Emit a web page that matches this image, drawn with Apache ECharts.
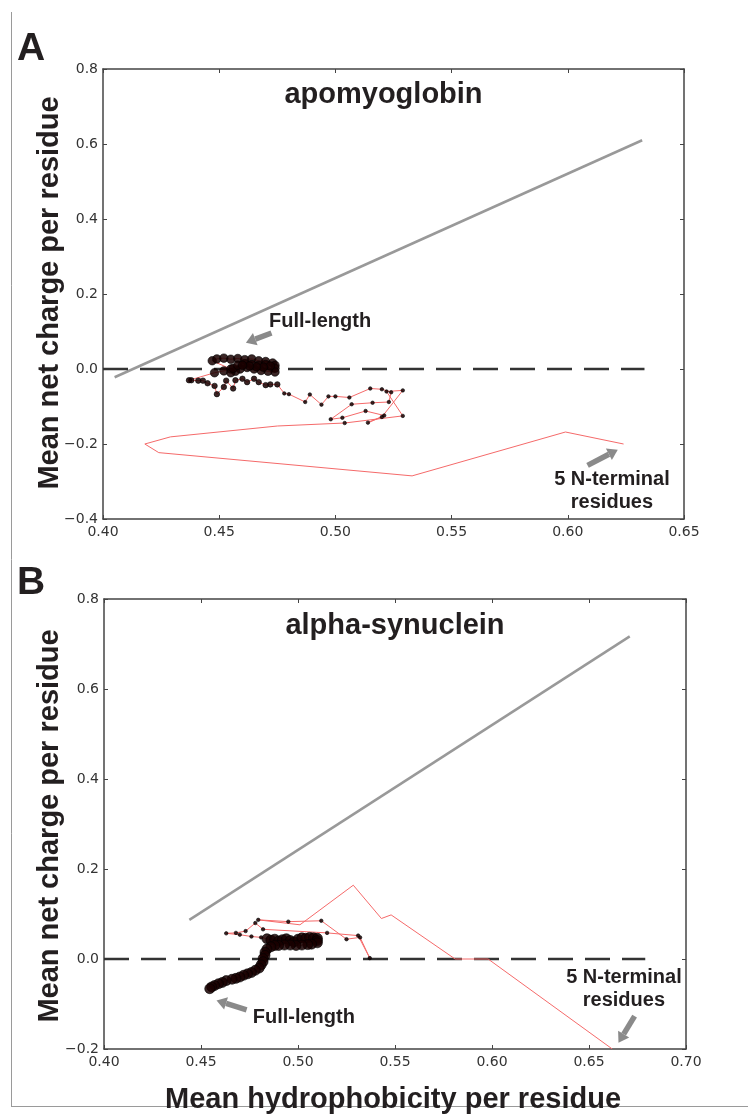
<!DOCTYPE html>
<html>
<head>
<meta charset="utf-8">
<script src="https://cdn.jsdelivr.net/npm/echarts@6/dist/echarts.min.js"></script>
<style>
  html, body { margin: 0; padding: 0; background: #fff; }
  #chart { width: 748px; height: 1118px; }
</style>
</head>
<body>
<div id="chart"></div>
<script>
// ---- apomyoglobin: cumulative trajectory from the 5 N-terminal residues to full length ----
const apoHydro = [0.624,0.599,0.533,0.424,0.418,0.429,0.475,0.504,0.529,0.522,0.529,0.520,0.514,0.521,0.513,0.503,0.498,0.507,0.516,0.523,0.524,0.520,0.515,0.506,0.500,0.497,0.494,0.489,0.487,0.480,0.478,0.475,0.472,0.470,0.467,0.465,0.462,0.460,0.457,0.456,0.453,0.452,0.449,0.448,0.445,0.443,0.441,0.438,0.437,
  0.448,0.452,0.455,0.447,0.449,0.452,0.455,0.458,0.461,0.464,0.467,0.470,0.473,0.474,0.474,0.474,0.471,0.468,0.465,0.462,0.459,0.457,0.455,0.456,0.458,0.461,0.464,0.467,0.470,0.472,0.469,0.466,0.463,0.460];
const apoCharge = [-0.200,-0.168,-0.285,-0.223,-0.200,-0.181,-0.152,-0.144,-0.125,-0.060,-0.057,-0.128,-0.143,-0.124,-0.112,-0.130,-0.134,-0.094,-0.090,-0.088,-0.062,-0.054,-0.052,-0.076,-0.073,-0.073,-0.095,-0.068,-0.088,-0.067,-0.065,-0.041,-0.041,-0.043,-0.035,-0.026,-0.035,-0.026,-0.030,-0.052,-0.031,-0.048,-0.067,-0.045,-0.038,-0.031,-0.031,-0.030,-0.030,
  -0.010,-0.005,0.000,0.022,0.027,0.029,0.026,0.028,0.025,0.027,0.022,0.020,0.016,0.010,0.002,-0.008,-0.006,-0.004,0.000,0.004,0.000,-0.006,-0.010,0.002,0.010,0.014,0.012,0.010,0.012,0.008,0.005,0.006,0.008,0.010];
const apoBoundaryX = [0.405, 0.632];
const apoBoundaryY = [-0.022, 0.610];
const apoZeroX = [0.400, 0.633];

// ---- alpha-synuclein ----
const synHydro = [0.662,0.598,0.581,0.548,0.543,0.5285,0.501,0.4795,0.495,0.512,0.525,0.532,0.537,0.531,0.515,0.482,0.478,0.473,0.468,0.463,0.470,0.476,0.481,
  0.484,0.486,0.488,0.490,0.492,0.494,0.496,0.498,0.500,0.502,0.504,0.506,0.508,0.510,0.510,0.510,0.507,0.505,0.502,0.499,0.496,0.493,0.490,0.488,0.486,0.484,0.483,0.483,0.482,0.482,0.481,0.480,0.478,0.476,0.474,0.472,0.470,0.468,0.466,0.463,0.461,0.459,0.457,0.4555,0.4545];
const synCharge = [-0.200,0.000,0.000,0.098,0.090,0.164,0.076,0.087,0.083,0.085,0.044,0.048,0.002,0.052,0.058,0.066,0.080,0.062,0.058,0.057,0.054,0.050,0.048,
  0.045,0.042,0.044,0.040,0.043,0.045,0.041,0.038,0.044,0.047,0.046,0.048,0.047,0.046,0.041,0.036,0.033,0.032,0.031,0.030,0.031,0.031,0.030,0.030,0.027,0.022,0.015,0.008,0.001,-0.006,-0.013,-0.020,-0.025,-0.030,-0.033,-0.036,-0.040,-0.043,-0.045,-0.048,-0.052,-0.055,-0.059,-0.062,-0.066];
const synBoundaryX = [0.444, 0.671];
const synBoundaryY = [0.087, 0.717];
const synZeroX = [0.400, 0.679];

// axis ranges
const apoXRange = [0.40, 0.65];
const apoYRange = [-0.4, 0.8];
const synXRange = [0.40, 0.70];
const synYRange = [-0.2, 0.8];

// text
const panelTitles = ['apomyoglobin', 'alpha-synuclein'];
const panelLetters = ['A', 'B'];
const yTitle = 'Mean net charge per residue';
const xTitle = 'Mean hydrophobicity per residue';
const fullLabel = 'Full-length';
const ntermLabel = '5 N-terminal\nresidues';

const pairs = (xs, ys) => xs.map((x, i) => [x, ys[i]]);
const minus = s => s.replace('-', '\u2212');

const TICK_FONT = '"DejaVu Sans", sans-serif';
const BOLD_FONT = '"Liberation Sans", Arial, sans-serif';
const frameColor = '#444';

function xAxes(grid, range, pos, showLabel) {
  return {
    type: 'value', gridIndex: grid, min: range[0], max: range[1], interval: 0.05,
    position: pos,
    axisLine: { onZero: false, lineStyle: { color: frameColor, width: 1.5 } },
    axisTick: { show: true, inside: true, length: 4, lineStyle: { color: frameColor, width: 1 } },
    axisLabel: { show: showLabel, showMinLabel: true, showMaxLabel: true, margin: 6,
      fontFamily: TICK_FONT, fontSize: 14, color: '#333',
      formatter: v => v.toFixed(2) },
    splitLine: { show: false }
  };
}
function yAxes(grid, range, pos, showLabel) {
  return {
    type: 'value', gridIndex: grid, min: range[0], max: range[1], interval: 0.2,
    position: pos,
    axisLine: { onZero: false, lineStyle: { color: frameColor, width: 1.5 } },
    axisTick: { show: true, inside: true, length: 4, lineStyle: { color: frameColor, width: 1 } },
    axisLabel: { show: showLabel, showMinLabel: true, showMaxLabel: true, margin: 5,
      fontFamily: TICK_FONT, fontSize: 14, color: '#333',
      formatter: v => minus(v.toFixed(1)) },
    splitLine: { show: false }
  };
}

// dot size grows as more residues are included
function apoSize(v, p) {
  const i = p.dataIndex;
  if (i < 7) return 0;
  if (i < 31) return 3.5;
  if (i < 49) return 5.5;
  return 8.5;
}
function synSize(v, p) {
  const i = p.dataIndex;
  if (i < 7) return 0;
  if (i < 23) return 3.5;
  return 10;
}

function trajectory(xi, yi, xs, ys, sizeFn) {
  return {
    type: 'line', xAxisIndex: xi, yAxisIndex: yi, data: pairs(xs, ys),
    symbol: 'circle', symbolSize: sizeFn, showSymbol: true, z: 5,
    lineStyle: { color: '#f56a6a', width: 1 },
    itemStyle: { color: 'rgba(25,0,0,0.85)', borderColor: '#000', borderWidth: 0.6 },
    animation: false, silent: true
  };
}
function straight(xi, yi, data, color, width, type, z) {
  return {
    type: 'line', xAxisIndex: xi, yAxisIndex: yi, data: data,
    symbol: 'none', z: z,
    lineStyle: { color: color, width: width, type: type },
    animation: false, silent: true
  };
}

const chart = echarts.init(document.getElementById('chart'), null, { renderer: 'canvas' });

chart.setOption({
  animation: false,
  backgroundColor: '#fff',
  grid: [
    { left: 103, top: 69, width: 581, height: 450 },
    { left: 104, top: 599, width: 582, height: 450 }
  ],
  xAxis: [
    xAxes(0, apoXRange, 'bottom', true), xAxes(0, apoXRange, 'top', false),
    xAxes(1, synXRange, 'bottom', true), xAxes(1, synXRange, 'top', false)
  ],
  yAxis: [
    yAxes(0, apoYRange, 'left', true), yAxes(0, apoYRange, 'right', false),
    yAxes(1, synYRange, 'left', true), yAxes(1, synYRange, 'right', false)
  ],
  series: [
    straight(0, 0, pairs(apoBoundaryX, apoBoundaryY), '#999', 2.5, 'solid', 2),
    straight(0, 0, apoZeroX.map(x => [x, 0]), '#333', 2.5, [25, 12], 3),
    trajectory(0, 0, apoHydro, apoCharge, apoSize),
    straight(2, 2, pairs(synBoundaryX, synBoundaryY), '#999', 2.5, 'solid', 2),
    straight(2, 2, synZeroX.map(x => [x, 0]), '#333', 2.5, [25, 12], 3),
    trajectory(2, 2, synHydro, synCharge, synSize)
  ]
});

// ---- annotations placed in data coordinates ----
function px(grid, pt) {
  return chart.convertToPixel({ gridIndex: grid }, pt);
}
function text(str, x, y, size, opts) {
  opts = opts || {};
  return {
    type: 'text', x: x, y: y, rotation: opts.rotation || 0, z: 20, silent: true,
    style: {
      text: str, x: 0, y: 0, fill: '#231f20',
      font: 'bold ' + size + 'px ' + BOLD_FONT,
      textAlign: 'center', textVerticalAlign: 'middle',
      align: 'center', verticalAlign: 'middle',
      lineHeight: opts.lineHeight || size
    }
  };
}
function arrow(grid, tail, head) {
  const a = px(grid, tail), b = px(grid, head);
  const dx = b[0] - a[0], dy = b[1] - a[1];
  const len = Math.hypot(dx, dy), ux = dx / len, uy = dy / len;
  const hl = 10, hw = 6.5;
  const bx = b[0] - ux * hl, by = b[1] - uy * hl;
  return {
    type: 'group', z: 20, silent: true,
    children: [
      { type: 'line', shape: { x1: a[0], y1: a[1], x2: bx, y2: by },
        style: { stroke: '#8a8a8a', lineWidth: 5.5 } },
      { type: 'polygon', shape: { points: [
          [b[0], b[1]],
          [bx - uy * hw, by + ux * hw],
          [bx + uy * hw, by - ux * hw]
        ] }, style: { fill: '#8a8a8a' } }
    ]
  };
}

const g = [];
// panel titles
let p = px(0, [0.5207, 0.73]);
g.push(text(panelTitles[0], p[0], p[1], 29));
p = px(1, [0.550, 0.739]);
g.push(text(panelTitles[1], p[0], p[1], 29));
// apomyoglobin annotations
p = px(0, [0.4934, 0.128]);
g.push(text(fullLabel, p[0], p[1], 20));
g.push(arrow(0, [0.4725, 0.096], [0.4615, 0.070]));
p = px(0, [0.619, -0.324]);
g.push(text(ntermLabel, p[0], p[1], 20, { lineHeight: 23 }));
g.push(arrow(0, [0.6085, -0.257], [0.6215, -0.215]));
// alpha-synuclein annotations
p = px(1, [0.503, -0.131]);
g.push(text(fullLabel, p[0], p[1], 20));
g.push(arrow(1, [0.4735, -0.113], [0.4580, -0.092]));
p = px(1, [0.668, -0.0656]);
g.push(text(ntermLabel, p[0], p[1], 20, { lineHeight: 23 }));
g.push(arrow(1, [0.6735, -0.127], [0.6652, -0.186]));

// panel letters and shared axis titles
g.push(text(panelLetters[0], 31, 49, 39));
g.push(text(panelLetters[1], 31, 583, 39));
g.push(text(yTitle, 50, 293, 29, { rotation: Math.PI / 2 }));
g.push(text(yTitle, 50, 826, 29, { rotation: Math.PI / 2 }));
g.push(text(xTitle, 393, 1100, 29));
// page frame
g.push({ type: 'line', z: 1, silent: true, shape: { x1: 11.5, y1: 12, x2: 11.5, y2: 1107 },
  style: { stroke: '#9a9a9a', lineWidth: 1 } });
g.push({ type: 'line', z: 1, silent: true, shape: { x1: 11, y1: 1106.5, x2: 748, y2: 1106.5 },
  style: { stroke: '#9a9a9a', lineWidth: 1 } });

chart.setOption({ graphic: g });
</script>
</body>
</html>
